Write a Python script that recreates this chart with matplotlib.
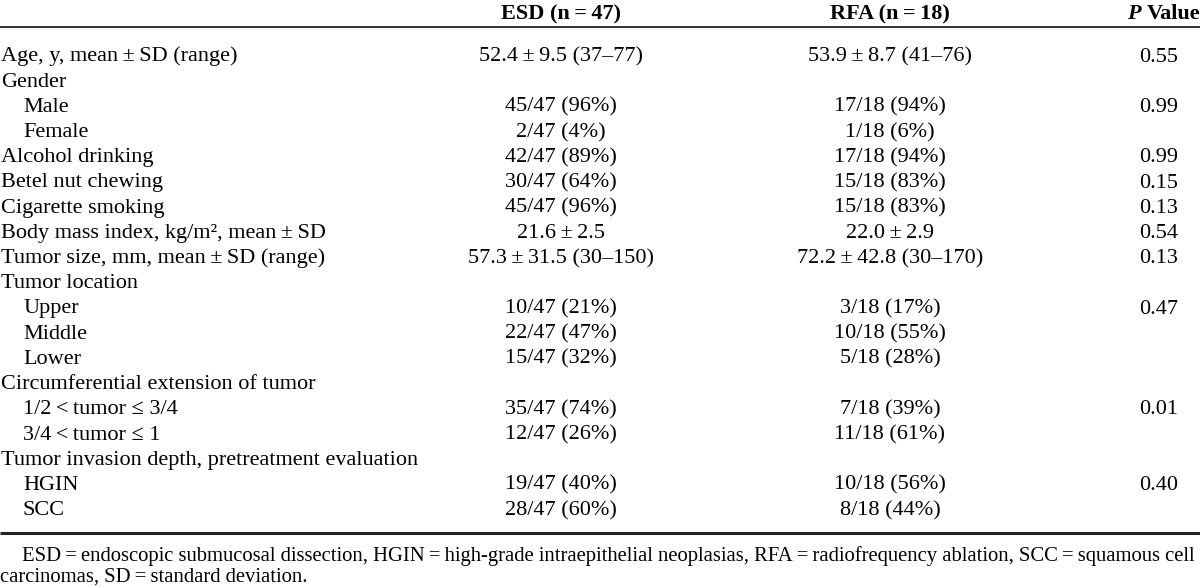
import matplotlib
matplotlib.use("Agg")
import matplotlib.pyplot as plt

plt.rcParams['font.family'] = ['Liberation Serif', 'DejaVu Serif']

headers = ["ESD (n\u2009=\u200947)", "RFA (n\u2009=\u200918)"]
labels = [
    "Age, y, mean\u2009\u00b1\u2009SD (range)",
    "Gender",
    "Male",
    "Female",
    "Alcohol drinking",
    "Betel nut chewing",
    "Cigarette smoking",
    "Body mass index, kg/m\u00b2, mean\u2009\u00b1\u2009SD",
    "Tumor size, mm, mean\u2009\u00b1\u2009SD (range)",
    "Tumor location",
    "Upper",
    "Middle",
    "Lower",
    "Circumferential extension of tumor",
    "1/2\u2009<\u2009tumor \u2264 3/4",
    "3/4\u2009<\u2009tumor \u2264 1",
    "Tumor invasion depth, pretreatment evaluation",
    "HGIN",
    "SCC",
]
indent = [0, 0, 1, 1, 0, 0, 0, 0, 0, 0, 1, 1, 1, 0, 1, 1, 0, 1, 1]
esd = [
    "52.4\u2009\u00b1\u20099.5 (37\u201377)", "", "45/47 (96%)", "2/47 (4%)",
    "42/47 (89%)", "30/47 (64%)", "45/47 (96%)", "21.6\u2009\u00b1\u20092.5",
    "57.3\u2009\u00b1\u200931.5 (30\u2013150)", "", "10/47 (21%)", "22/47 (47%)",
    "15/47 (32%)", "", "35/47 (74%)", "12/47 (26%)", "", "19/47 (40%)", "28/47 (60%)",
]
rfa = [
    "53.9\u2009\u00b1\u20098.7 (41\u201376)", "", "17/18 (94%)", "1/18 (6%)",
    "17/18 (94%)", "15/18 (83%)", "15/18 (83%)", "22.0\u2009\u00b1\u20092.9",
    "72.2\u2009\u00b1\u200942.8 (30\u2013170)", "", "3/18 (17%)", "10/18 (55%)",
    "5/18 (28%)", "", "7/18 (39%)", "11/18 (61%)", "", "10/18 (56%)", "8/18 (44%)",
]
pvals = ["0.55", "", "0.99", "", "0.99", "0.15", "0.13", "0.54", "0.13", "",
         "0.47", "", "", "", "0.01", "", "", "0.40", ""]
footnote = ["ESD\u2009=\u2009endoscopic submucosal dissection, HGIN\u2009=\u2009high-grade intraepithelial neoplasias, "
            "RFA\u2009=\u2009radiofrequency ablation, SCC\u2009=\u2009squamous cell",
            "carcinomas, SD\u2009=\u2009standard deviation."]

W, H = 1200, 587
fig = plt.figure(figsize=(W / 100, H / 100), dpi=100)
ax = fig.add_axes([0, 0, 1, 1])
ax.set_xlim(0, W)
ax.set_ylim(H, 0)
ax.axis('off')

fs = 16.0
col_esd, col_rfa, col_p = 561, 890, 1159
row0, dy = 55.5, 25.2
base = 6.0  # baseline offset below row centre

ax.text(col_esd, 13 + base, headers[0], ha='center', va='baseline', fontsize=fs, fontweight='bold')
ax.text(col_rfa, 13 + base, headers[1], ha='center', va='baseline', fontsize=fs, fontweight='bold')
ax.text(1127, 13 + base, "P", ha='left', va='baseline', fontsize=fs, fontweight='bold', style='italic')
ax.text(1200, 13 + base, "Value", ha='right', va='baseline', fontsize=fs, fontweight='bold')

ax.plot([0, W], [27, 27], color='#333333', lw=1.4, solid_capstyle='butt')

for i, lab in enumerate(labels):
    y = row0 + i * dy + base
    ax.text(1 + 22 * indent[i], y, lab, ha='left', va='baseline', fontsize=fs)
    ax.text(col_esd, y, esd[i], ha='center', va='baseline', fontsize=fs)
    ax.text(col_rfa, y, rfa[i], ha='center', va='baseline', fontsize=fs)
    ax.text(col_p, y, pvals[i], ha='center', va='baseline', fontsize=fs)

ax.plot([0, W], [533, 533], color='#222222', lw=2.2, solid_capstyle='butt')

ax.text(22, 561, footnote[0], ha='left', va='baseline', fontsize=14.9)
ax.text(0, 582, footnote[1], ha='left', va='baseline', fontsize=14.9)

fig.savefig("out.png", dpi=100)
